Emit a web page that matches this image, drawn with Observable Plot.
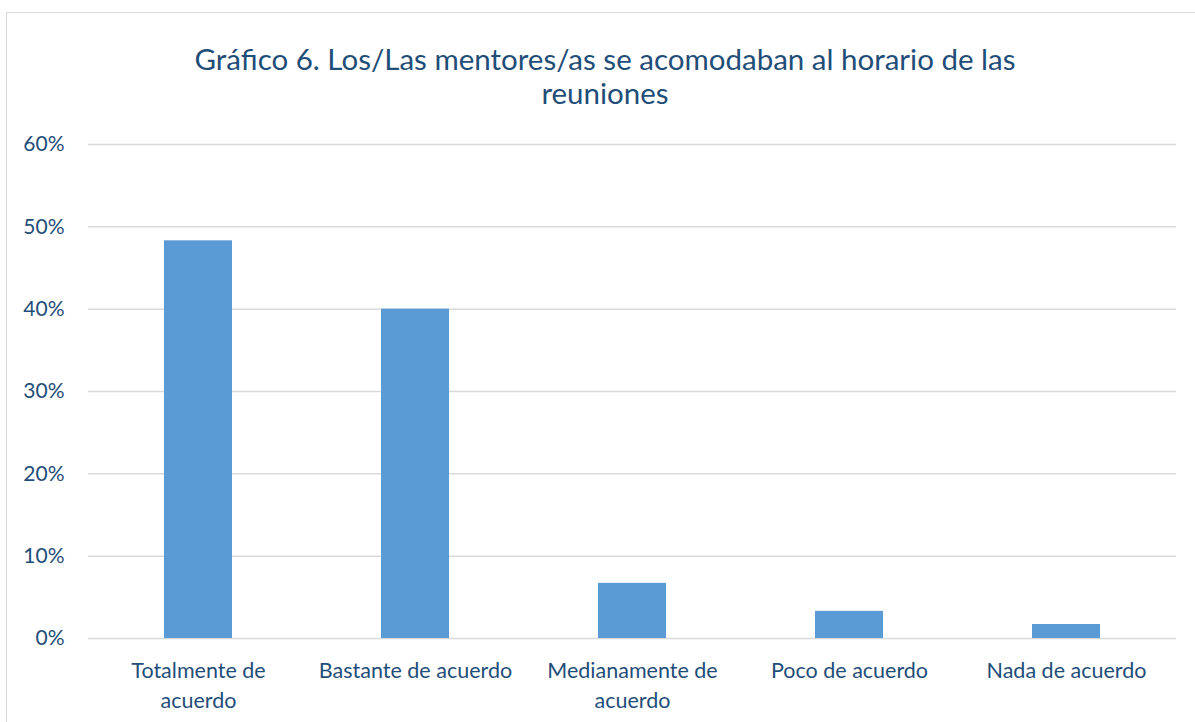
<!DOCTYPE html>
<html>
<head>
<meta charset="utf-8">
<script src="https://cdn.jsdelivr.net/npm/d3@7"></script>
<script src="https://cdn.jsdelivr.net/npm/@observablehq/plot@0.6"></script>
<style>
  html, body { margin: 0; padding: 0; background: #fff; overflow: hidden; }
  #wrap { position: relative; width: 1195px; height: 722px; overflow: hidden; }
  #frame { position: absolute; left: 6px; top: 12px; width: 1200px; height: 720px; border: 1.5px solid #d9d9d9; box-sizing: border-box; }
  #title { position: absolute; left: 0; width: 1210px; top: 42px; text-align: center;
           font-family: Lato, "Open Sans", sans-serif; font-size: 29.5px; line-height: 34px; color: #1f4e79; }
  #chart { position: absolute; left: 0; top: 0; }
</style>
</head>
<body>
<div id="wrap">
  <div id="frame"></div>
  <div id="chart"></div>
  <div id="title">Gráfico 6. Los/Las mentores/as se acomodaban al horario de las<br>reuniones</div>
</div>
<script>
const categories = ["Totalmente de acuerdo", "Bastante de acuerdo", "Medianamente de acuerdo", "Poco de acuerdo", "Nada de acuerdo"];
const tickLabels = ["Totalmente de\nacuerdo", "Bastante de acuerdo", "Medianamente de\nacuerdo", "Poco de acuerdo", "Nada de acuerdo"];
const values = [0.483, 0.40, 0.067, 0.033, 0.017];
const yTicks = [0, 0.1, 0.2, 0.3, 0.4, 0.5, 0.6];

const data = categories.map((c, i) => ({category: c, value: values[i]}));
const labelMap = new Map(categories.map((c, i) => [c, tickLabels[i]]));

const chart = Plot.plot({
  width: 1195,
  height: 722,
  marginLeft: 88,
  marginRight: 19,
  marginTop: 144,
  marginBottom: 84,
  style: {fontFamily: 'Lato, "Open Sans", sans-serif', background: "transparent"},
  x: {domain: categories, paddingInner: 0.687, paddingOuter: 0.3435, align: 0.5},
  y: {domain: [0, 0.6]},
  marks: [
    Plot.gridY(yTicks, {stroke: "#d9d9d9", strokeOpacity: 1, strokeWidth: 1.5}),
    Plot.barY(data, {x: "category", y: "value", fill: "#5b9bd5"}),
    Plot.axisY(yTicks, {tickSize: 0, tickPadding: 24, tickFormat: d => Math.round(d * 100) + "%", fontSize: 21, fill: "#1f4e79", label: null}),
    Plot.axisX({tickSize: 0, tickPadding: 18, tickFormat: d => labelMap.get(d), fontSize: 21.5, fill: "#1f4e79", lineHeight: 1.4, label: null})
  ]
});
document.getElementById("chart").appendChild(chart);
</script>
</body>
</html>
